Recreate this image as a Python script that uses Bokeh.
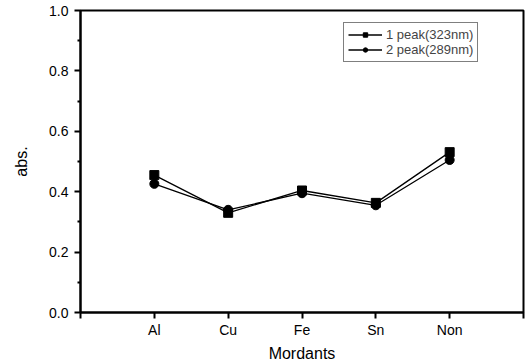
from bokeh.plotting import figure
from bokeh.models import Range1d, FixedTicker, Legend, LegendItem
from bokeh.embed import file_html
from bokeh.resources import INLINE

# Absorbance of the dyed samples for each mordant
mordants = ["Al", "Cu", "Fe", "Sn", "Non"]
positions = [1, 2, 3, 4, 5]
peak1_323nm = [0.455, 0.330, 0.404, 0.363, 0.531]
peak2_289nm = [0.426, 0.340, 0.395, 0.355, 0.505]
y_ticks = [0.0, 0.2, 0.4, 0.6, 0.8, 1.0]
y_minor = [0.1, 0.3, 0.5, 0.7, 0.9]

FONT = "Liberation Sans"

p = figure(width=530, height=364, output_backend="svg", toolbar_location=None,
           x_range=Range1d(0, 6), y_range=Range1d(0, 1.0),
           min_border_left=80, min_border_right=7, min_border_top=10, min_border_bottom=51)
p.background_fill_color = "white"
p.border_fill_color = "white"
p.grid.visible = False
p.outline_line_color = "black"
p.outline_line_width = 2

# x axis: categories placed at integer positions
xa = p.xaxis[0]
xa.ticker = FixedTicker(ticks=[0, 1, 2, 3, 4, 5, 6])
xa.major_label_overrides = {0: "", 6: "", **{pos: lab for pos, lab in zip(positions, mordants)}}
xa.axis_label = "Mordants"

ya = p.yaxis[0]
ya.ticker = FixedTicker(ticks=y_ticks, minor_ticks=y_minor)
ya.major_label_overrides = {t: f"{t:.1f}" for t in y_ticks}
ya.axis_label = "abs."

for ax in (xa, ya):
    ax.axis_line_width = 2
    ax.axis_line_color = "black"
    ax.major_tick_line_width = 2
    ax.major_tick_line_color = "black"
    ax.major_tick_in = 0
    ax.major_tick_out = 6
    ax.minor_tick_line_width = 2
    ax.minor_tick_line_color = "black"
    ax.minor_tick_in = 0
    ax.minor_tick_out = 3
    ax.major_label_text_font = FONT
    ax.major_label_text_font_size = "14px"
    ax.major_label_text_color = "black"
    ax.axis_label_text_font = FONT
    ax.axis_label_text_font_size = "16px"
    ax.axis_label_text_font_style = "normal"
    ax.axis_label_text_color = "black"

xa.major_label_standoff = 3
xa.axis_label_standoff = 4
ya.major_label_standoff = 6
ya.axis_label_standoff = 16

l1 = p.line(positions, peak1_323nm, line_color="black", line_width=1.3)
m1 = p.scatter(positions, peak1_323nm, marker="square", size=9, fill_color="black", line_color="black")
l2 = p.line(positions, peak2_289nm, line_color="black", line_width=1.3)
m2 = p.scatter(positions, peak2_289nm, marker="circle", size=9, fill_color="black", line_color="black")

legend = Legend(items=[LegendItem(label="1 peak(323nm)", renderers=[l1, m1]),
                       LegendItem(label="2 peak(289nm)", renderers=[l2, m2])],
                location=(263, 250))
legend.label_text_font = FONT
legend.label_text_font_size = "13px"
legend.label_height = 11
legend.glyph_height = 11
legend.glyph_width = 34
legend.label_standoff = 4
legend.spacing = 0
legend.padding = 4
legend.margin = 0
legend.border_line_color = "black"
legend.border_line_width = 1
legend.background_fill_color = "white"
legend.background_fill_alpha = 1
p.add_layout(legend)

open("out.html", "w").write(file_html(p, INLINE))
